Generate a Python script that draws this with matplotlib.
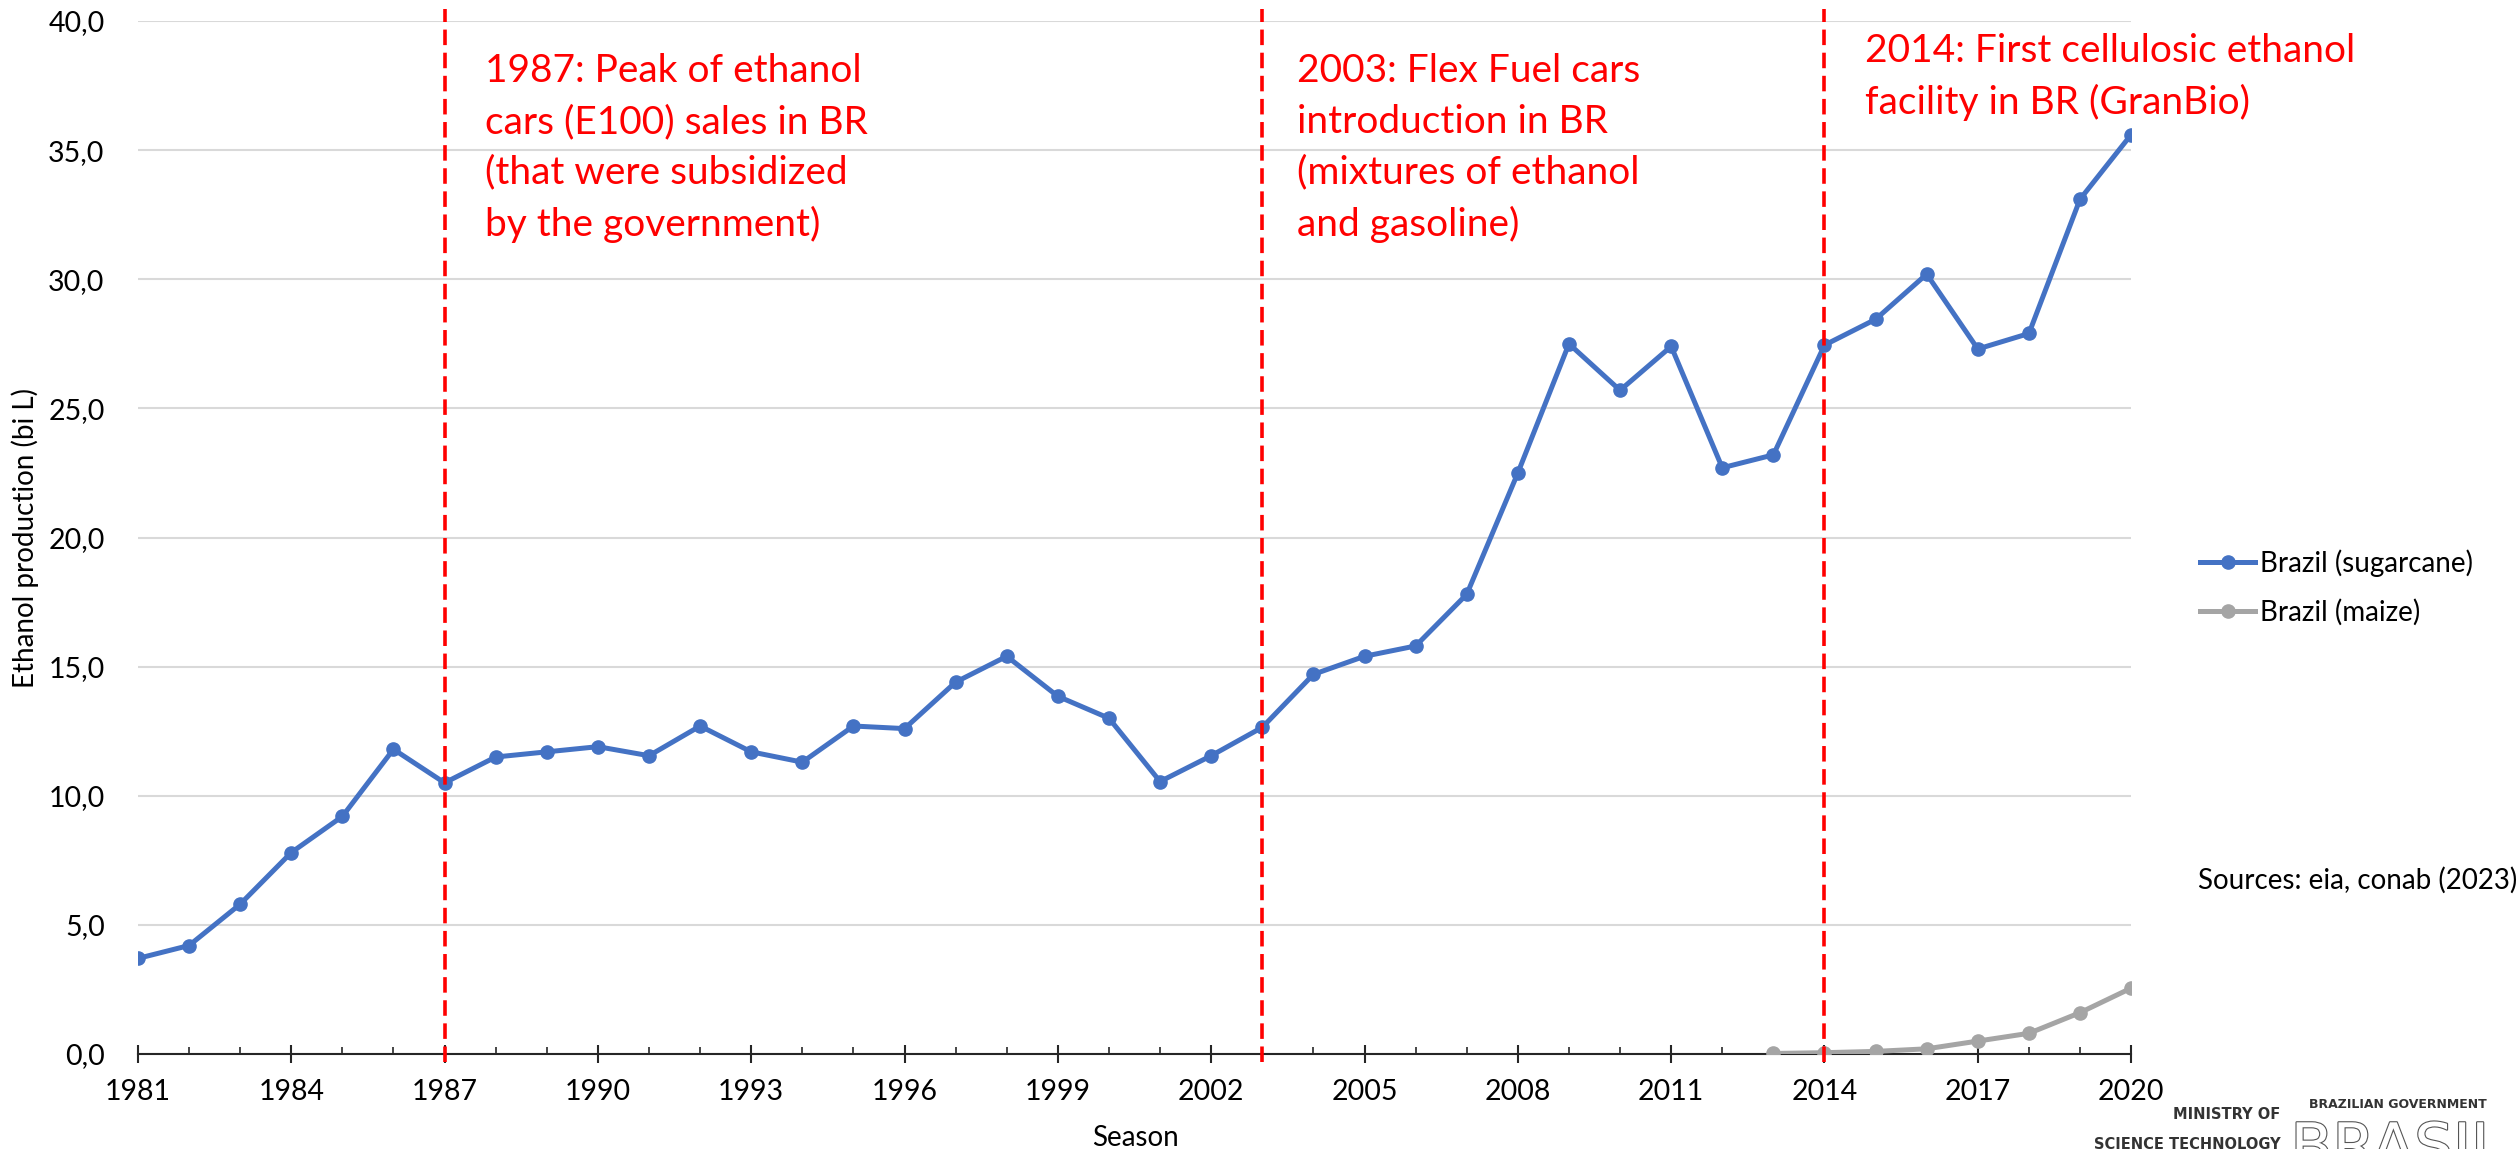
import matplotlib
matplotlib.use("Agg")
import matplotlib.pyplot as plt
import matplotlib.patheffects as pe
from matplotlib.ticker import FuncFormatter, FixedLocator, MultipleLocator

plt.rcParams['font.family'] = ['Lato', 'DejaVu Sans']

# Ethanol production by season, billion litres
seasons = list(range(1981, 2021))
sugarcane = [3.7, 4.2, 5.8, 7.8, 9.2, 11.8, 10.5, 11.5, 11.7, 11.9,
             11.55, 12.7, 11.7, 11.3, 12.7, 12.6, 14.4, 15.4, 13.85, 13.0,
             10.55, 11.55, 12.65, 14.7, 15.4, 15.8, 17.8, 22.5, 27.5, 25.7,
             27.4, 22.7, 23.2, 27.45, 28.45, 30.2, 27.3, 27.9, 33.1, 35.6]
maize_seasons = list(range(2013, 2021))
maize = [0.02, 0.05, 0.1, 0.2, 0.5, 0.8, 1.6, 2.55]

season_ticks = list(range(1981, 2021, 3))

# milestones marked with dashed lines
event_years = [1987, 2003, 2014]
event_notes = [
    "1987: Peak of ethanol\ncars (E100) sales in BR\n(that were subsidized\nby the government)",
    "2003: Flex Fuel cars\nintroduction in BR\n(mixtures of ethanol\nand gasoline)",
    "2014: First cellulosic ethanol\nfacility in BR (GranBio)",
]

BLUE = "#4472C4"
GREY = "#A5A5A5"
RED = "#FF0000"

fig = plt.figure(figsize=(25.17, 11.49), dpi=100)
ax = fig.add_axes([0.0548, 0.0827, 0.7919, 0.899])

ax.plot(seasons, sugarcane, color=BLUE, lw=3.6, marker='o', ms=9.5,
        label='Brazil (sugarcane)', zorder=4)
ax.plot(maize_seasons, maize, color=GREY, lw=3.6, marker='o', ms=9.5,
        label='Brazil (maize)', zorder=4)

for yr in event_years:
    ax.plot([yr, yr], [-0.3, 40.45], color=RED, lw=2.6,
            linestyle=(0, (4.3, 2.1)), clip_on=False, zorder=5)

note_style = dict(color=RED, fontsize=28, va='top', ha='left', linespacing=1.5)
ax.text(1987.8, 38.75, event_notes[0], **note_style)
ax.text(2003.68, 38.75, event_notes[1], **note_style)
ax.text(2014.8, 39.55, event_notes[2], clip_on=False, **note_style)

ax.set_xlim(1981, 2020)
ax.set_ylim(0, 40)
ax.xaxis.set_major_locator(FixedLocator(season_ticks))
ax.xaxis.set_minor_locator(MultipleLocator(1))
ax.yaxis.set_major_locator(MultipleLocator(5))
ax.yaxis.set_major_formatter(FuncFormatter(lambda v, p: f"{v:.1f}".replace('.', ',')))

ax.grid(axis='y', color='#D9D9D9', lw=1.5)
ax.set_axisbelow(True)
for side in ['top', 'right', 'left']:
    ax.spines[side].set_visible(False)
ax.spines['bottom'].set_color('#262626')
ax.spines['bottom'].set_linewidth(1.5)
ax.spines['bottom'].set_zorder(3)

ax.tick_params(axis='x', which='major', direction='inout', length=13.5, width=1.5,
               color='#262626', labelsize=20.5, pad=11)
ax.tick_params(axis='x', which='minor', direction='in', length=5, width=1.2,
               color='#262626')
ax.tick_params(axis='y', length=0, labelsize=20.5, pad=24)

fig.text(0.0099, 0.532, "Ethanol production (bi L)", rotation=90,
         fontsize=20, ha='center', va='center')
fig.text(0.451, 0.021, "Season", fontsize=20, ha='center', va='top')

fig.legend(loc='center left', bbox_to_anchor=(0.874, 0.4887), frameon=False,
           fontsize=20, handlelength=2.0, handletextpad=0.15, borderpad=0,
           borderaxespad=0, labelspacing=0.8)

fig.text(0.8733, 0.234, "Sources: eia, conab (2023)", fontsize=20,
         ha='left', va='center')

# ministry footer
footer = dict(fontweight='bold', family='DejaVu Sans', color='#333333')
fig.text(0.906, 0.0296, "MINISTRY OF", fontsize=10.5, ha='right', va='center', **footer)
fig.text(0.906, 0.004, "SCIENCE TECHNOLOGY", fontsize=10.5, ha='right', va='center', **footer)
fig.text(0.9527, 0.0387, "BRAZILIAN GOVERNMENT", fontsize=9, ha='center', va='center',
         **footer)
fig.text(0.9527, 0.0245, "BRASIL", fontsize=44,
         family=['Liberation Sans Narrow', 'DejaVu Sans'],
         color='white', ha='center', va='top',
         path_effects=[pe.withStroke(linewidth=1.6, foreground='#555555')])

fig.savefig("out.png", dpi=100)
